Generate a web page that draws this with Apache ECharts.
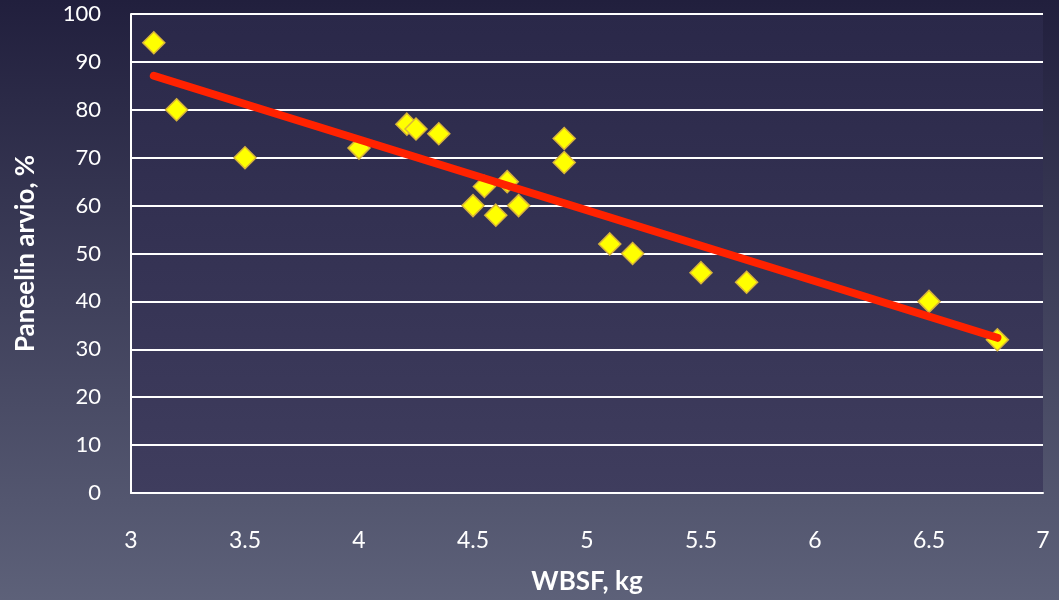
<!DOCTYPE html>
<html>
<head>
<meta charset="utf-8">
<script src="https://cdn.jsdelivr.net/npm/echarts@6/dist/echarts.min.js"></script>
<style>
html,body{margin:0;padding:0;}
#c{width:1059px;height:600px;}
</style>
</head>
<body>
<div id="c"></div>
<script>
const wbsf = [3.1, 3.2, 3.5, 4.0, 4.21, 4.25, 4.35, 4.5, 4.55, 4.6, 4.65, 4.7, 4.9, 4.9, 5.1, 5.2, 5.5, 5.7, 6.5, 6.8];
const paneeli = [94, 80, 70, 72, 77, 76, 75, 60, 64, 58, 65, 60, 74, 69, 52, 50, 46, 44, 40, 32];
const trendX = [3.1, 6.8];
const trendY = [87.1, 32.4];
const xTicks = [3, 3.5, 4, 4.5, 5, 5.5, 6, 6.5, 7];
const yTicks = [0, 10, 20, 30, 40, 50, 60, 70, 80, 90, 100];

const points = wbsf.map((x, i) => [x, paneeli[i]]);
const trend = trendX.map((x, i) => [x, trendY[i]]);

const chart = echarts.init(document.getElementById('c'));
const font = 'Lato, "Open Sans", sans-serif';
chart.setOption({
  backgroundColor: new echarts.graphic.LinearGradient(0, 0, 0, 1, [
    {offset: 0, color: '#211f3d'},
    {offset: 1, color: '#5d6179'}
  ]),
  animation: false,
  grid: {
    left: 131, right: 16, top: 14, bottom: 107,
    show: true,
    borderWidth: 0,
    backgroundColor: new echarts.graphic.LinearGradient(0, 0, 0, 1, [
      {offset: 0, color: '#2a2849'},
      {offset: 1, color: '#3f3d5e'}
    ])
  },
  xAxis: {
    type: 'value', min: 3, max: 7, interval: 0.5,
    name: 'WBSF, kg', nameLocation: 'middle', nameGap: 76,
    nameTextStyle: {color: '#ffffff', fontSize: 26, fontWeight: 'bold', fontFamily: font},
    axisLine: {show: true, onZero: false, lineStyle: {color: '#ffffff', width: 2}},
    axisTick: {show: false},
    splitLine: {show: false},
    axisLabel: {color: '#ffffff', fontSize: 23, margin: 36, fontFamily: font,
      formatter: v => xTicks.includes(v) ? String(v) : ''}
  },
  yAxis: {
    type: 'value', min: 0, max: 100, interval: 10,
    name: 'Paneelin arvio, %', nameLocation: 'middle', nameGap: 92, nameRotate: 90,
    nameTextStyle: {color: '#ffffff', fontSize: 26, fontWeight: 'bold', fontFamily: font},
    axisLine: {show: true, lineStyle: {color: '#ffffff', width: 2}},
    axisTick: {show: false},
    splitLine: {show: true, lineStyle: {color: '#ffffff', width: 2}},
    axisLabel: {color: '#ffffff', fontSize: 22, margin: 30, fontFamily: font,
      formatter: v => yTicks.includes(v) ? String(v) : ''}
  },
  series: [
    {
      type: 'scatter', data: points, symbol: 'diamond', symbolSize: 22,
      itemStyle: {color: '#ffff00', borderColor: '#d9b43a', borderWidth: 1.5, opacity: 1},
      z: 2
    },
    {
      type: 'line', data: trend, symbol: 'none',
      lineStyle: {color: '#ff2200', width: 8, cap: 'round'},
      z: 3
    }
  ]
});
</script>
</body>
</html>
